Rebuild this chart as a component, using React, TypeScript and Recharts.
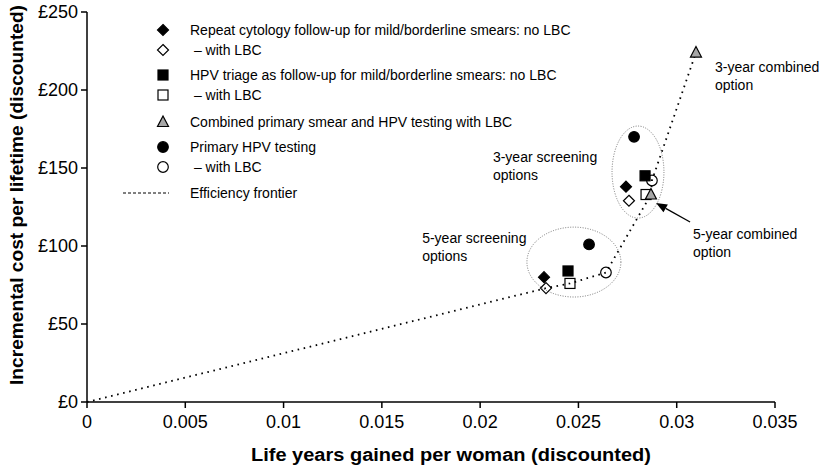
import React from 'react';
import { ScatterChart, Scatter, XAxis, YAxis, ReferenceDot, Label } from 'recharts';

// axis ticks
const xTicks = [0, 0.005, 0.01, 0.015, 0.02, 0.025, 0.03, 0.035];
const yTicks = [0, 50, 100, 150, 200, 250];

// life years gained vs incremental cost; first point 5-yearly, second 3-yearly
const cytologyNoLbc = [{ x: 0.02325, y: 80 }, { x: 0.02742, y: 138 }];
const cytologyLbc = [{ x: 0.02335, y: 73 }, { x: 0.02757, y: 129 }];
const triageNoLbc = [{ x: 0.02447, y: 84 }, { x: 0.02839, y: 145 }];
const triageLbc = [{ x: 0.02457, y: 76 }, { x: 0.02844, y: 133 }];
const combinedLbc = [{ x: 0.02869, y: 133 }, { x: 0.03098, y: 224 }];
const primaryHpv = [{ x: 0.02554, y: 101 }, { x: 0.02783, y: 170 }];
const primaryHpvLbc = [{ x: 0.0264, y: 83 }, { x: 0.02874, y: 142 }];

// efficiency frontier runs through the non-dominated options
const frontier = [
  { x: 0, y: 0 },
  cytologyLbc[0],
  triageLbc[0],
  primaryHpvLbc[0],
  combinedLbc[0],
  primaryHpvLbc[1],
  combinedLbc[1],
];

// dotted groupings (centre and radii in data units)
const groupEllipses = [
  { x: 0.02477, y: 89.7, rx: 0.00239, ry: 22.4 },
  { x: 0.02803, y: 147.4, rx: 0.00132, ry: 29.5 },
];

const annotations = [
  { x: 0.02065, y: 157, lines: ['3-year screening', 'options'] },
  { x: 0.01705, y: 105, lines: ['5-year screening', 'options'] },
  { x: 0.03195, y: 214.5, lines: ['3-year combined', 'option'] },
  { x: 0.03083, y: 108, lines: ['5-year combined', 'option'] },
];

const arrowTail = { x: 0.03068, y: 115.4 };
const arrowTip = { x: 0.02895, y: 127.6 };

// layout
const W = 827;
const H = 465;
const M = { top: 12, right: 52, left: 0, bottom: 0 };
const Y_AXIS_W = 87;
const X_AXIS_H = 63;
const PLOT_W = W - M.right - Y_AXIS_W;
const PLOT_H = H - M.top - X_AXIS_H;
const PX_X = PLOT_W / 0.035;
const PX_Y = PLOT_H / 250;

const FONT = '"Liberation Sans", Arial, sans-serif';
const NARROW = '"Liberation Sans Narrow", "Liberation Sans", Arial, sans-serif';

type Kind = 'diamond' | 'square' | 'triangle' | 'circle';

const Marker = ({ kind, filled, cx, cy }: { kind: Kind; filled: boolean; cx: number; cy: number }) => {
  const fill = kind === 'triangle' ? '#a6a6a6' : filled ? '#000' : 'none';
  const common = { fill, stroke: '#000', strokeWidth: 1.2 };
  if (kind === 'diamond') {
    const h = 5.5;
    return <polygon points={`${cx},${cy - h} ${cx + h},${cy} ${cx},${cy + h} ${cx - h},${cy}`} {...common} />;
  }
  if (kind === 'square') {
    const h = 5;
    return <rect x={cx - h} y={cy - h} width={h * 2} height={h * 2} {...common} />;
  }
  if (kind === 'triangle') {
    return <polygon points={`${cx},${cy - 6} ${cx + 5.5},${cy + 4.5} ${cx - 5.5},${cy + 4.5}`} {...common} />;
  }
  return <circle cx={cx} cy={cy} r={5.3} {...common} />;
};

const series: { name: string; data: { x: number; y: number }[]; kind: Kind; filled: boolean }[] = [
  { name: 'Repeat cytology follow-up for mild/borderline smears: no LBC', data: cytologyNoLbc, kind: 'diamond', filled: true },
  { name: '\u00a0– with LBC', data: cytologyLbc, kind: 'diamond', filled: false },
  { name: 'HPV triage as follow-up for mild/borderline smears: no LBC', data: triageNoLbc, kind: 'square', filled: true },
  { name: '\u00a0– with LBC', data: triageLbc, kind: 'square', filled: false },
  { name: 'Combined primary smear and HPV testing with LBC', data: combinedLbc, kind: 'triangle', filled: false },
  { name: 'Primary HPV testing', data: primaryHpv, kind: 'circle', filled: true },
  { name: '\u00a0– with LBC', data: primaryHpvLbc, kind: 'circle', filled: false },
];

const legendRowsY = [30, 50, 75, 95, 122, 147, 167, 193];

const Legend = () => (
  <div style={{ position: 'absolute', left: 0, top: 0, fontFamily: FONT, fontSize: 14, color: '#000' }}>
    {series.map((s, i) => (
      <div key={i} style={{ position: 'absolute', top: legendRowsY[i] - 9, left: 150, whiteSpace: 'nowrap', display: 'flex', alignItems: 'center', height: 18 }}>
        <svg width={26} height={18} style={{ display: 'block' }}>
          <Marker kind={s.kind} filled={s.filled} cx={13} cy={9} />
        </svg>
        <span style={{ marginLeft: 14 }}>{s.name}</span>
      </div>
    ))}
    <div style={{ position: 'absolute', top: legendRowsY[7] - 9, left: 123, whiteSpace: 'nowrap', display: 'flex', alignItems: 'center', height: 18 }}>
      <svg width={46} height={18} style={{ display: 'block' }}>
        <line x1={0} y1={9} x2={46} y2={9} stroke="#000" strokeWidth={1} strokeDasharray="3 2" />
      </svg>
      <span style={{ marginLeft: 21 }}>Efficiency frontier</span>
    </div>
  </div>
);

export default function App() {
  return (
    <div style={{ position: 'absolute', left: 0, top: 0, width: W, height: H, background: '#fff' }}>
      <ScatterChart width={W} height={H} margin={M} style={{ fontFamily: FONT }}>
        <XAxis
          type="number"
          dataKey="x"
          domain={[0, 0.035]}
          ticks={xTicks}
          height={X_AXIS_H}
          stroke="#000"
          strokeWidth={1.5}
          tickSize={6}
          tickMargin={7}
          tick={{ fill: '#000', fontSize: 18, fontFamily: NARROW }}
        >
          <Label
            content={() => (
              <text x={451} y={461} textAnchor="middle" fontSize={18} fontWeight="bold" fill="#000" textLength={400} lengthAdjust="spacingAndGlyphs">
                Life years gained per woman (discounted)
              </text>
            )}
          />
        </XAxis>
        <YAxis
          type="number"
          dataKey="y"
          domain={[0, 250]}
          ticks={yTicks}
          width={Y_AXIS_W}
          stroke="#000"
          strokeWidth={1.5}
          tickSize={6}
          tickMargin={3}
          tickFormatter={(v: number) => `£${v}`}
          tick={{ fill: '#000', fontSize: 18, fontFamily: NARROW }}
        >
          <Label
            content={() => (
              <text x={23} y={195} transform="rotate(-90 23 195)" textAnchor="middle" fontSize={18} fontWeight="bold" fill="#000" textLength={380} lengthAdjust="spacingAndGlyphs">
                Incremental cost per lifetime (discounted)
              </text>
            )}
          />
        </YAxis>

        {groupEllipses.map((e, i) => (
          <ReferenceDot
            key={`e${i}`}
            x={e.x}
            y={e.y}
            r={1}
            shape={(p: any) => (
              <ellipse cx={p.cx} cy={p.cy} rx={e.rx * PX_X} ry={e.ry * PX_Y} fill="none" stroke="#777" strokeWidth={1} strokeDasharray="1 1.5" />
            )}
          />
        ))}

        <Scatter
          name="Efficiency frontier"
          data={frontier}
          line={{ stroke: '#000', strokeWidth: 1.8, strokeDasharray: '1.6 4.6' }}
          shape={() => <g />}
          isAnimationActive={false}
        />

        {series.map((s, i) => (
          <Scatter
            key={i}
            name={s.name}
            data={s.data}
            isAnimationActive={false}
            shape={(p: any) => <Marker kind={s.kind} filled={s.filled} cx={p.cx} cy={p.cy} />}
          />
        ))}

        <ReferenceDot
          x={arrowTip.x}
          y={arrowTip.y}
          r={1}
          shape={(p: any) => {
            const tx = p.cx + (arrowTail.x - arrowTip.x) * PX_X;
            const ty = p.cy - (arrowTail.y - arrowTip.y) * PX_Y;
            const a = Math.atan2(ty - p.cy, tx - p.cx);
            const len = 11;
            const wid = 4.5;
            const bx = p.cx + Math.cos(a) * len;
            const by = p.cy + Math.sin(a) * len;
            const nx = -Math.sin(a) * wid;
            const ny = Math.cos(a) * wid;
            return (
              <g>
                <line x1={bx} y1={by} x2={tx} y2={ty} stroke="#000" strokeWidth={1.3} />
                <polygon points={`${p.cx},${p.cy} ${bx + nx},${by + ny} ${bx - nx},${by - ny}`} fill="#000" />
              </g>
            );
          }}
        />

        {annotations.map((t, i) => (
          <ReferenceDot
            key={`t${i}`}
            x={t.x}
            y={t.y}
            r={1}
            shape={(p: any) => (
              <text x={p.cx} y={p.cy} fontSize={14} fill="#000" fontFamily={FONT}>
                {t.lines.map((l, j) => (
                  <tspan key={j} x={p.cx} dy={j === 0 ? 5 : 18}>
                    {l}
                  </tspan>
                ))}
              </text>
            )}
          />
        ))}
      </ScatterChart>
      <Legend />
    </div>
  );
}
